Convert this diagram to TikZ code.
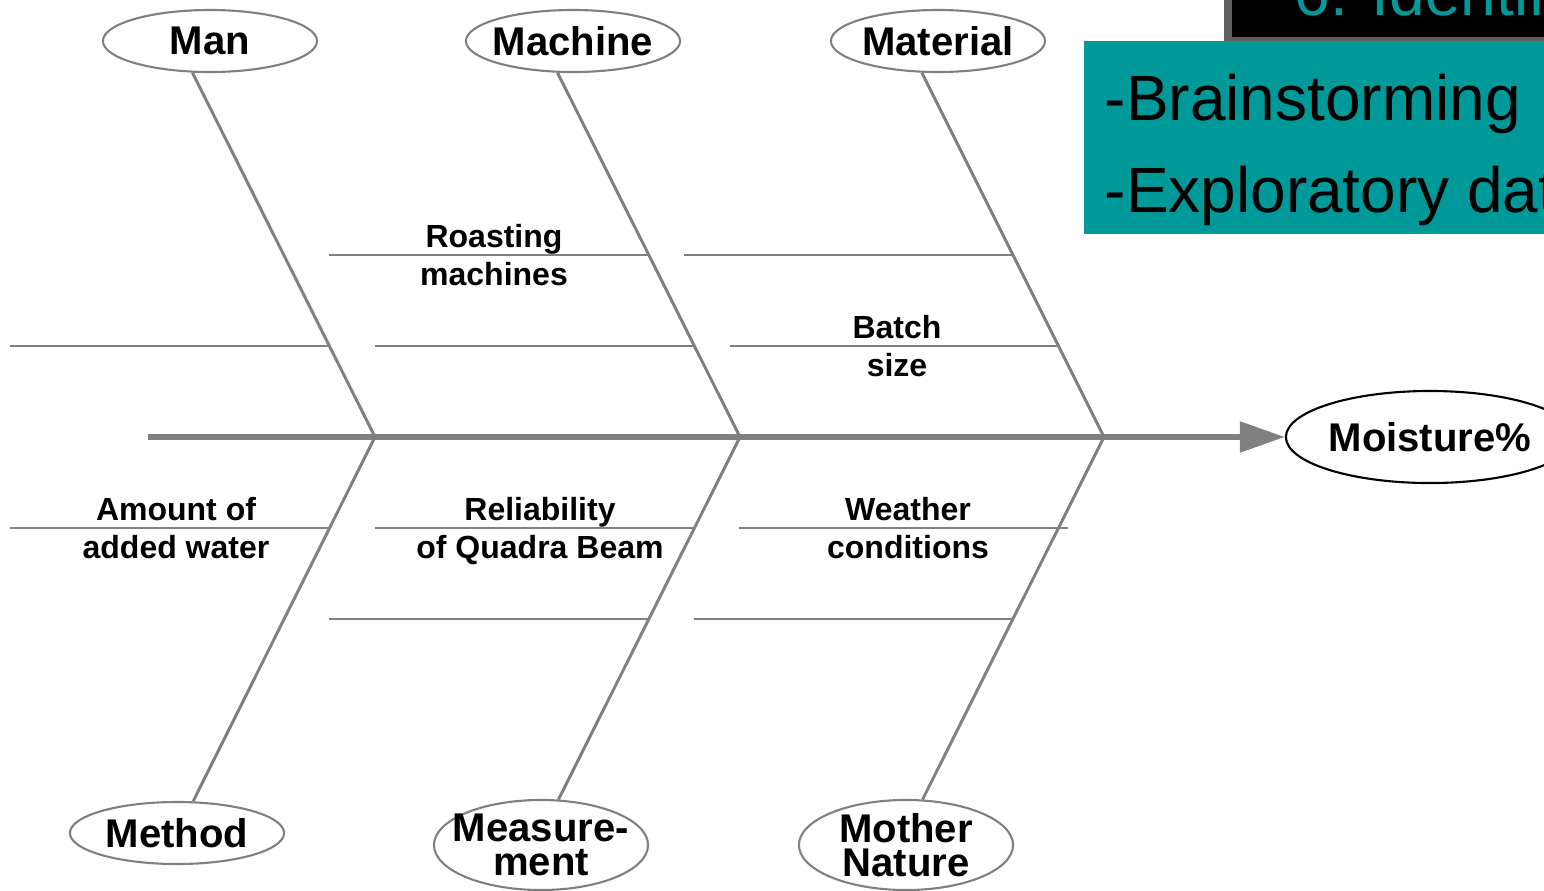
\documentclass[tikz,border=0pt]{standalone}
\usepackage{fontspec}
\setmainfont{Liberation Sans}
\usetikzlibrary{shapes,arrows.meta}

\definecolor{bonegray}{HTML}{808080}
\definecolor{slideteal}{HTML}{009999}
\definecolor{framegray}{HTML}{606060}

\begin{document}
\begin{tikzpicture}
  [x=0.01cm,y=-0.01cm,
   cat/.style={ellipse,draw=bonegray,line width=0.6pt,minimum width=2.14cm,minimum height=0.62cm,
     inner xsep=-20pt,inner ysep=-6pt,align=center,font=\fontsize{11.4}{9.7}\selectfont\bfseries},
   cause/.style={align=center,inner sep=0pt,font=\fontsize{9.1}{10.7}\selectfont\bfseries},
   bone/.style={draw=bonegray,line width=0.85pt},
   twig/.style={draw=bonegray,line width=0.6pt},
   slide/.style={anchor=base west,inner sep=0pt,font=\fontsize{18.2}{20}\selectfont}]
  \useasboundingbox (0,0) rectangle (1544,890);

  % slide corner
  \fill[framegray] (1224,0) rectangle (1544,45);
  \fill[black] (1232,0) rectangle (1544,37);
  \node[slide,text=slideteal] (title) at (1294,15) {6. Identifi};
  \fill[slideteal] (1084,41) rectangle (1544,234);
  \node[slide] (brain) at (1104,120) {-Brainstorming};
  \node[slide] (explo) at (1104,212) {-Exploratory dat};

  % categories
  \node[cat] (man) at (210,41) {Man};
  \node[cat] (machine) at (573,41) {Machine};
  \node[cat] (material) at (938,41) {Material};
  \node[cat] (method) at (177,833) {Method};
  \node[cat,minimum height=0.9cm] (measure) at (541,845) {Measure-\\ment};
  \node[cat,minimum height=0.9cm] (mother) at (906,845) {Mother\\Nature};
  \node[cat,draw=black,minimum width=2.88cm,minimum height=0.92cm] (moist) at (1430,437) {Moisture\%};

  \coordinate (tail) at (148,437);
  \coordinate (j1) at (375,437);
  \coordinate (j2) at (740,437);
  \coordinate (j3) at (1104,437);

  \draw[bonegray,line width=1.7pt,-{Triangle[length=12.8pt,width=8.5pt]}] (tail) -- (moist);

  \foreach \from/\to in {j1/man.241,j2/machine.244,j3/material.243,j1/method.63,j2/measure.69,j3/mother.70}
    \draw[bone] (\from) -- (\to);

  % small bones
  \foreach \y/\a/\b in {255/329/648,255/684/1013,
                        346/10/329,346/375/694,346/730/1058,
                        528/10/329,528/375/694,528/739/1068,
                        619/329/648,619/694/1013}
    \draw[twig] (\a,\y) -- (\b,\y);

  \node[cause] (roast) at (494,255) {Roasting\\machines};
  \node[cause] (batch) at (897,346) {Batch\\size};
  \node[cause] (water) at (176,528) {Amount of\\added water};
  \node[cause] (beam) at (540,531) {Reliability\\of Quadra Beam};
  \node[cause] (weather) at (908,528) {Weather\\conditions};

\end{tikzpicture}
\end{document}
